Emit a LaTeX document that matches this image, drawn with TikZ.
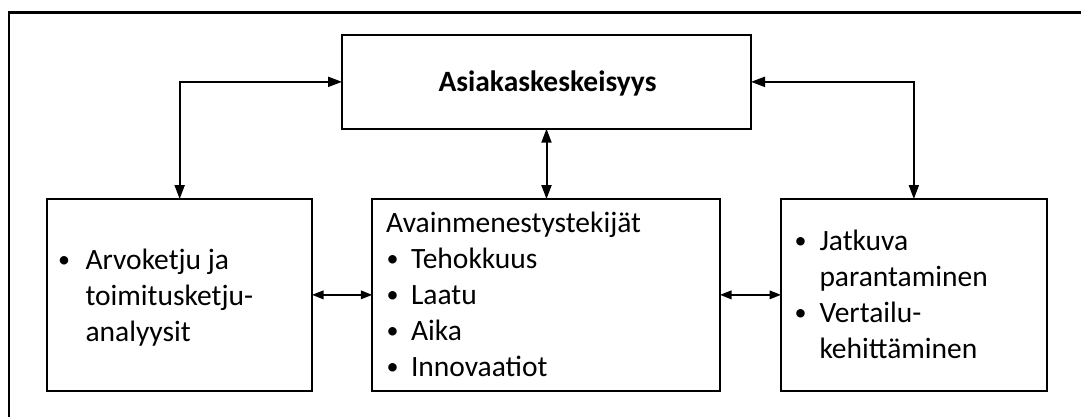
\documentclass[tikz,border=0pt]{standalone}
\usepackage{fontspec}
\setmainfont{Carlito}
\usetikzlibrary{arrows.meta}
\begin{document}
\begin{tikzpicture}[x=1pt,y=-1pt,
  panel/.style={draw=black, line width=2.2pt, inner sep=0pt, outer sep=0pt},
  txt/.style={inner sep=0pt, outer sep=0pt, font=\fontsize{29.5}{36}\selectfont, anchor=base west},
  dot/.style={inner sep=0pt, outer sep=0pt, font=\fontsize{24}{36}\selectfont, anchor=center},
  link/.style={line width=2pt, {Triangle[length=14pt,width=10pt]}-{Triangle[length=14pt,width=10pt]}},
  shortlink/.style={line width=2pt, {Triangle[length=11.5pt,width=8.5pt]}-{Triangle[length=11.5pt,width=8.5pt]}}]

\useasboundingbox (0,0) rectangle (1081,416);
\clip (0,0) rectangle (1081,416);

% outer frame, running off the right and bottom edges
\draw[line width=2.4pt] (9,430) -- (9,12.3) -- (1095,12.3);

% boxes
\node[panel, minimum width=409pt, minimum height=93.7pt] (top) at (546.5,81.85) {};
\node[panel, minimum width=264.7pt, minimum height=191.7pt] (left) at (179.65,294.85) {};
\node[panel, minimum width=347.7pt, minimum height=191.7pt] (mid) at (546.15,294.85) {};
\node[panel, minimum width=265.7pt, minimum height=191.7pt] (right) at (913.85,294.85) {};

% title
\node[inner sep=0pt, anchor=base, font=\fontsize{29.5}{36}\selectfont\bfseries] (title) at (547.5,91.7) {Asiakaskeskeisyys};

% left box text
\node[dot] (lb1) at (64,262.5) {•};
\node[txt] (lt1) at (85.5,269) {Arvoketju ja};
\node[txt] (lt2) at (85.5,305) {toimitusketju-};
\node[txt] (lt3) at (85.5,341) {analyysit};

% middle box text
\node[txt] (mh) at (386.2,232) {Avainmenestystekijät};
\node[dot] (mb1) at (392.5,261.5) {•};
\node[txt] (mt1) at (411,268) {Tehokkuus};
\node[dot] (mb2) at (392.5,297.5) {•};
\node[txt] (mt2) at (411,304) {Laatu};
\node[dot] (mb3) at (392.5,333.5) {•};
\node[txt] (mt3) at (411,340) {Aika};
\node[dot] (mb4) at (392.5,369.5) {•};
\node[txt] (mt4) at (411,376) {Innovaatiot};

% right box text
\node[dot] (rb1) at (800.5,243.5) {•};
\node[txt] (rt1) at (819.5,250) {Jatkuva};
\node[txt] (rt2) at (819.5,286) {parantaminen};
\node[dot] (rb2) at (800.5,315.5) {•};
\node[txt] (rt3) at (819.5,322) {Vertailu-};
\node[txt] (rt4) at (819.5,358) {kehittäminen};

% connectors
\draw[link] (top.west) -| (left.north);
\draw[link] (top.east) -| (right.north);
\draw[link] (top.south) -- (top.south |- mid.north);
\draw[shortlink] (left.east) -- (mid.west);
\draw[shortlink] (mid.east) -- (right.west);
\end{tikzpicture}
\end{document}
